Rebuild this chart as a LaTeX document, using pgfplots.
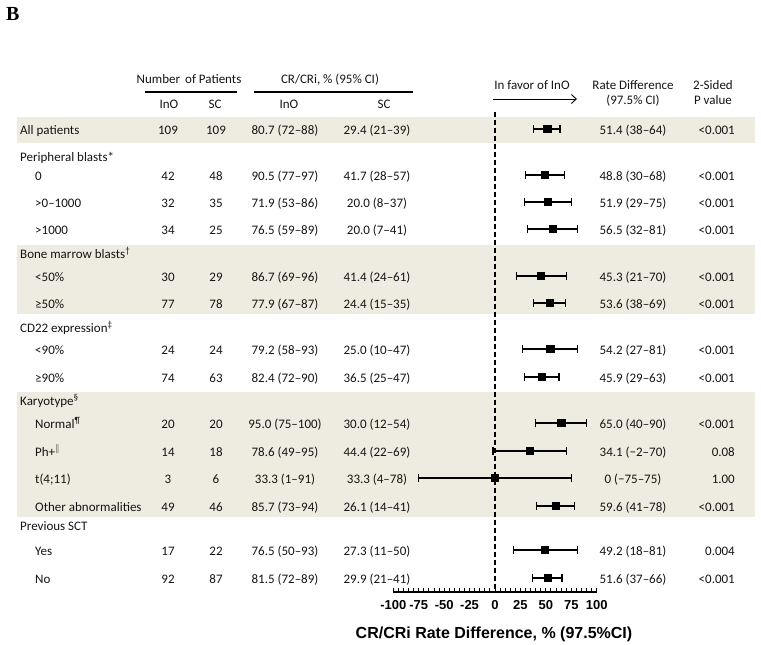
\documentclass[border=0pt]{standalone}
\usepackage{pgfplots}
\pgfplotsset{compat=1.18}
\usepackage{pgfplotstable}
\usepackage{fontspec}
\usetikzlibrary{arrows.meta}
\setmainfont{Carlito}
\newfontfamily\arialf{Liberation Sans}
\newfontfamily\timesf{Liberation Serif}
\newfontfamily\dvf{DejaVu Sans}
\definecolor{band}{RGB}{238,235,224}
\definecolor{txt}{RGB}{20,20,20}
\newcommand{\fs}{\fontsize{13}{15}\selectfont}

\pgfplotstableread{
y est lo hi
-129 51.4 38 64
-175 48.8 30 68
-202 51.9 29 75
-229 56.5 32 81
-276 45.3 21 70
-303 53.6 38 69
-349 54.2 27 81
-377 45.9 29 63
-423 65.0 40 90
-451 34.1 -2 70
-478 0 -75 75
-506 59.6 41 78
-550 49.2 18 81
-578 51.6 37 66
}\forestdata

\tikzset{
 lt/.style={font=\fs, text=txt, anchor=base west, inner sep=0pt},
 ct/.style={font=\fs, text=txt, anchor=base, inner sep=0pt},
 rt/.style={font=\fs, text=txt, anchor=base east, inner sep=0pt},
}
\newcommand{\frow}[9]{%
 \node[lt] at (#2,#1+5) {#3};
 \node[ct] at (168,#1+5) {#4};
 \node[ct] at (216,#1+5) {#5};
 \node[ct] at (285,#1+5) {#6};
 \node[ct] at (377,#1+5) {#7};
 \node[ct] at (633,#1+5) {#8};
 \node[rt] at (735,#1+5) {#9};}

\begin{document}
\begin{tikzpicture}
\begin{scope}[x=1pt,y=-1pt]
\useasboundingbox (0,0) rectangle (761,645);
\fill[band] (17,117) rectangle (755,143);
\fill[band] (17,245) rectangle (755,314);
\fill[band] (17,392) rectangle (755,517);
\end{scope}

\begin{axis}[
 at={(393.3pt,-592pt)}, anchor=south west,
 scale only axis, width=203.4pt, height=480pt,
 xmin=-100, xmax=100, ymin=-592, ymax=-112,
 axis y line=none, axis x line*=bottom,
 x axis line style={-, line width=1.3pt},
 xtick={-100,-75,-50,-25,0,25,50,75,100},
 xticklabels={-100,-75,-50,-25,0,25,50,75,100},
 minor x tick num=4,
 tick align=inside,
 major tick length=4.5pt, minor tick length=4.5pt,
 tick style={black, line width=0.9pt},
 xticklabel style={font=\arialf\bfseries\fontsize{13}{15}\selectfont, inner sep=0pt, yshift=-8pt},
 clip=false,
]
\addplot[black, line width=1.5pt, dash pattern=on 5pt off 3pt] coordinates {(0,-112) (0,-592)};
\addplot[black, only marks, mark=square*, mark size=3.6pt,
 error bars/.cd, x dir=both, x explicit,
 error mark=|,
 error bar style={line width=1.3pt},
 error mark options={line width=1.3pt, mark size=4pt}]
 table[x=est, y=y, x error minus expr=\thisrow{est}-\thisrow{lo}, x error plus expr=\thisrow{hi}-\thisrow{est}] {\forestdata};
\end{axis}

\begin{scope}[x=1pt,y=-1pt]
\node[font=\timesf\bfseries\fontsize{20}{22}\selectfont, anchor=base west, inner sep=0pt] at (6,20) {B};
% headers
\node[ct] at (189,83) {Number\, of Patients};
\node[ct] at (330,83) {CR/CRi, \% (95\% CI)};
\draw[line width=2.5pt] (145,92) -- (237,92);
\draw[line width=2.5pt] (254,92) -- (413,92);
\node[ct] at (169,108) {InO};
\node[ct] at (215,108) {SC};
\node[ct] at (289,108) {InO};
\node[ct] at (384,108) {SC};
\node[ct] at (532,89) {In favor of InO};
\draw[line width=0.9pt, -{Straight Barb[length=5pt,width=9pt]}] (493,99) -- (577,99);
\node[ct] at (633,89) {Rate Difference};
\node[ct] at (633,104) {(97.5\% CI)};
\node[ct] at (713,89) {2-Sided};
\node[ct] at (713,104) {P value};
% group headers
\node[lt] at (20,161) {Peripheral blasts*};
\node[lt] at (20,258) {Bone marrow blasts\textsuperscript{†}};
\node[lt] at (20,332) {CD22 expression\textsuperscript{‡}};
\node[lt] at (20,405) {Karyotype\textsuperscript{§}};
\node[lt] at (20,530) {Previous SCT};
% rows
\frow{129}{20}{All patients}{109}{109}{80.7 (72–88)}{29.4 (21–39)}{51.4 (38–64)}{<0.001}
\frow{175}{35}{0}{42}{48}{90.5 (77–97)}{41.7 (28–57)}{48.8 (30–68)}{<0.001}
\frow{202}{35}{>0–1000}{32}{35}{71.9 (53–86)}{20.0 (8–37)}{51.9 (29–75)}{<0.001}
\frow{229}{35}{>1000}{34}{25}{76.5 (59–89)}{20.0 (7–41)}{56.5 (32–81)}{<0.001}
\frow{276}{35}{<50\%}{30}{29}{86.7 (69–96)}{41.4 (24–61)}{45.3 (21–70)}{<0.001}
\frow{303}{35}{≥50\%}{77}{78}{77.9 (67–87)}{24.4 (15–35)}{53.6 (38–69)}{<0.001}
\frow{349}{35}{<90\%}{24}{24}{79.2 (58–93)}{25.0 (10–47)}{54.2 (27–81)}{<0.001}
\frow{377}{35}{≥90\%}{74}{63}{82.4 (72–90)}{36.5 (25–47)}{45.9 (29–63)}{<0.001}
\frow{423}{35}{Normal\textsuperscript{¶}}{20}{20}{95.0 (75–100)}{30.0 (12–54)}{65.0 (40–90)}{<0.001}
\frow{451}{35}{Ph+\textsuperscript{\color{gray}\dvf ‖}}{14}{18}{78.6 (49–95)}{44.4 (22–69)}{34.1 (−2–70)}{0.08}
\frow{478}{35}{t(4;11)}{3}{6}{33.3 (1–91)}{33.3 (4–78)}{0 (−75–75)}{1.00}
\frow{506}{35}{Other abnormalities}{49}{46}{85.7 (73–94)}{26.1 (14–41)}{59.6 (41–78)}{<0.001}
\frow{550}{35}{Yes}{17}{22}{76.5 (50–93)}{27.3 (11–50)}{49.2 (18–81)}{0.004}
\frow{578}{35}{No}{92}{87}{81.5 (72–89)}{29.9 (21–41)}{51.6 (37–66)}{<0.001}
% axis title
\node[font=\arialf\bfseries\fontsize{16}{18}\selectfont, anchor=base, inner sep=0pt] at (494,638) {CR/CRi Rate Difference, \% (97.5\%CI)};
\end{scope}
\end{tikzpicture}
\end{document}
